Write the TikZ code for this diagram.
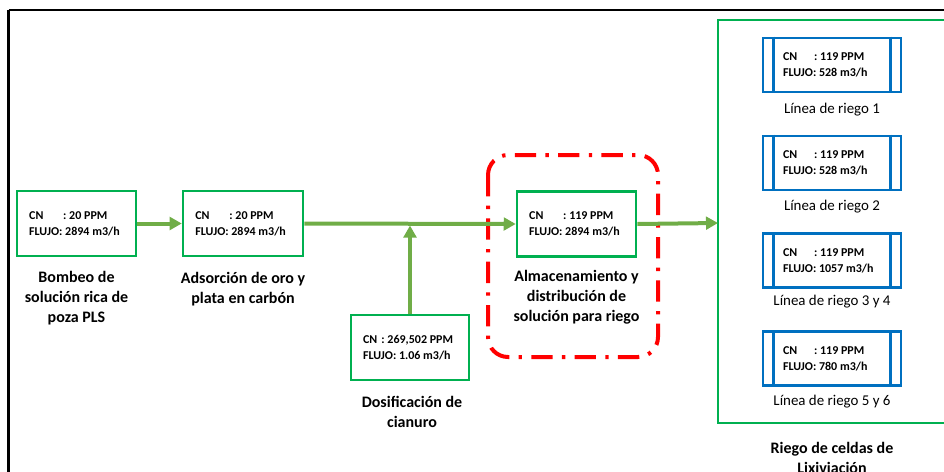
\documentclass[tikz,border=0pt]{standalone}
\usepackage{fontspec}
\setmainfont{Carlito}
\usetikzlibrary{arrows.meta}
\definecolor{boxgreen}{HTML}{00B050}
\definecolor{arrgreen}{HTML}{70AD47}
\definecolor{bluebox}{HTML}{0070C0}
\definecolor{redline}{HTML}{FF0000}
\tikzset{
  px/.style={x=0.75pt,y=-0.75pt},
  gbox/.style={draw=boxgreen,line width=1.9pt,minimum height=48.75pt,align=left,
    font=\fontsize{9}{12}\selectfont\bfseries,inner sep=0pt},
  bbox/.style={draw=bluebox,line width=1.9pt,minimum width=103.5pt,minimum height=40.5pt,
    align=left,font=\fontsize{9}{12}\selectfont\bfseries,inner sep=0pt},
  blabel/.style={align=center,font=\fontsize{12}{15}\selectfont\bfseries,inner sep=0pt},
  llabel/.style={font=\fontsize{11.2}{14}\selectfont,inner sep=0pt},
  flow/.style={draw=arrgreen,line width=3pt,-{Triangle[length=9pt,width=9.5pt]}},
  redbox/.style={draw=redline,line width=3pt,rounded corners=15pt,
    dash pattern=on 16pt off 7pt on 2.5pt off 7pt}
}
\begin{document}
\begin{tikzpicture}[px]
\useasboundingbox (0,0) rectangle (944,471);
\begin{scope}
\clip (0,0) rectangle (944,471);
% outer black frame
\draw[line width=1.6pt,black] (8.5,10) -- (960,10);
\draw[line width=1.6pt,black] (8.5,10) -- (8.5,480);
% big green container
\draw[draw=boxgreen,line width=1.9pt] (718,20) rectangle (960,423);
% red dash-dot rounded rectangle
\draw[redbox] (488,155) rectangle (658,357);

% process boxes
\node[gbox,minimum width=89.25pt] (b1) at (76.5,223.5)
  {\hbox to 71pt{CN\hspace{1.65em}: 20 PPM\hfill}\\\hbox to 71pt{FLUJO: 2894 m3/h\hfill}};
\node[gbox,minimum width=90pt] (b2) at (243,223.5)
  {\hbox to 71.5pt{CN\hspace{1.65em}: 20 PPM\hfill}\\\hbox to 71.5pt{FLUJO: 2894 m3/h\hfill}};
\node[gbox,minimum width=88.5pt] (b3) at (410,347.5)
  {\hbox to 70.5pt{CN\hspace{0.35em}: 269,502 PPM\hfill}\\\hbox to 70.5pt{FLUJO: 1.06 m3/h\hfill}};
\node[gbox,minimum width=89.25pt] (b4) at (576.5,224)
  {\hbox to 71pt{CN\hspace{1.65em}: 119 PPM\hfill}\\\hbox to 71pt{FLUJO: 2894 m3/h\hfill}};

% blue boxes
\foreach \n/\y/\f in {r1/65/528,r2/163/528,r3/260.5/1057,r4/358.5/780}{
  \node[bbox] (\n) at (832,\y)
    {\hbox to 75pt{\hspace{0.75pt}CN\hspace{1.4em}: 119 PPM\hfill}\\\hbox to 75pt{\hspace{0.75pt}FLUJO: \f{} m3/h\hfill}};
  \draw[draw=bluebox,line width=1.9pt] ([xshift=9pt]\n.north west) -- ([xshift=9pt]\n.south west);
  \draw[draw=bluebox,line width=1.9pt] ([xshift=-9pt]\n.north east) -- ([xshift=-9pt]\n.south east);
}
\node[llabel] (l1) at (832,110) {Línea de riego 1};
\node[llabel] (l2) at (832,207) {Línea de riego 2};
\node[llabel] (l3) at (832,302) {Línea de riego 3 y 4};
\node[llabel] (l4) at (832,402) {Línea de riego 5 y 6};

% labels
\node[blabel] (t1) at (76.5,298) {Bombeo de\\solución rica de\\poza PLS};
\node[blabel] (t2) at (243,289) {Adsorción de oro y\\plata en carbón};
\node[blabel] (t3) at (412,411.5) {Dosificación de\\cianuro};
\node[blabel] (t4) at (576.5,297.5) {Almacenamiento y\\distribución de\\solución para riego};
\node[blabel] (t5) at (832,458) {Riego de celdas de\\Lixiviación};

% connectors
\coordinate (jn) at (b3.north |- b2.east);
\coordinate (gin) at (718,223);
\draw[flow] (b1.east) -- (b2.west);
\draw[flow] (b2.east) -- (b4.west);
\draw[flow] (b3.north) -- ([yshift=-1.5]jn);
\draw[flow] (b4.east) -- (gin);
\end{scope}
\end{tikzpicture}
\end{document}
